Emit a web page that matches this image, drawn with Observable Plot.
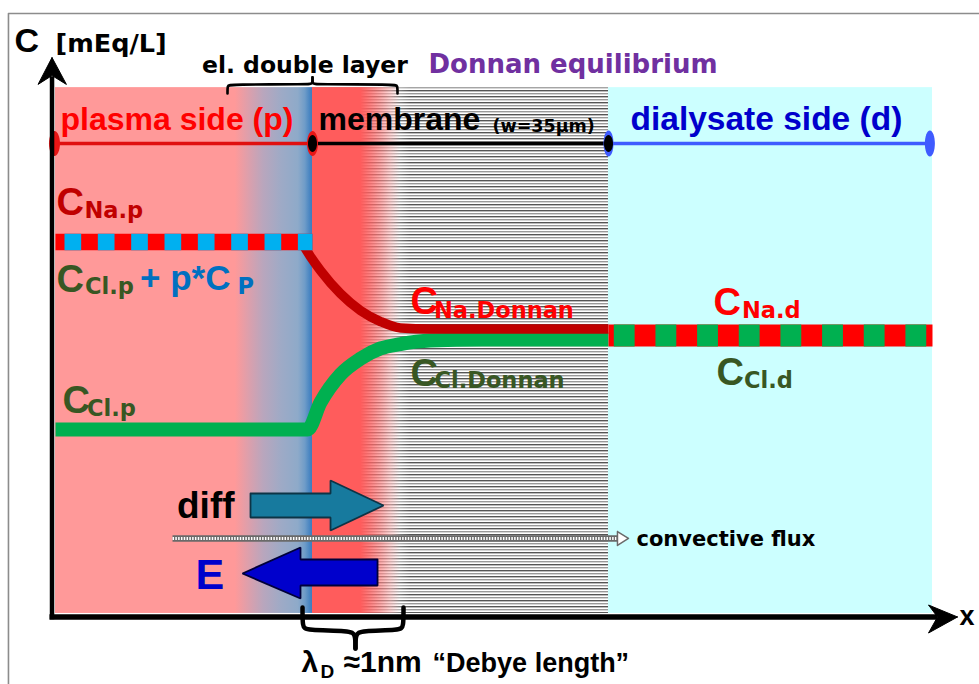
<!DOCTYPE html>
<html><head><meta charset="utf-8">
<script src="https://cdn.jsdelivr.net/npm/d3@7"></script>
<script src="https://cdn.jsdelivr.net/npm/@observablehq/plot@0.6"></script>
<style>html,body{margin:0;padding:0;overflow:hidden;background:#fff;} #chart svg{display:block;}</style>
</head><body><div id="chart"></div>
<script>
// x: position relative to the membrane surface (µm); y: concentration (mEq/L)
const xDomain = [-36.892, 78.868];
const yDomain = [-24.95, 229.74];

const frame = [[-35.95, -24.95], [-35.95, 224.9], [78.87, 224.9]];
const plasmaX = [-30.39, 0];
const membraneX = [0, 35];
const dialysateX = [35, 73.31];
const debyeX = [0, 10.41];
const fadeX = [0, 11.6];
const compartmentY = [1.5, 197.3];

const headerP = [[-30.51, 176.5], [0, 176.5]];
const headerM = [[0, 176.5], [35, 176.5]];
const headerD = [[35, 176.5], [73.0, 176.5]];
const endsRed = [[-30.51, 176.5], [0, 176.5]];
const endsBlue = [[35, 176.5], [73.0, 176.5]];
const endsBlack = [[0, 176.5], [35, 176.5]];

const naPlasma = [[-30.39, 139.8], [0, 139.8]];
const naMembrane = [[-1.30, 139.8], [-0.24, 134.4], [0.95, 129.2], [3.31, 120.6], [5.68, 114.3], [8.04, 110.2], [10.41, 107.8], [13.95, 107.4], [35, 107.4]];
const clProfile = [[-30.39, 70.0], [-0.59, 70.0], [0.95, 80.1], [3.31, 90.5], [5.68, 96.4], [8.04, 100.2], [10.41, 101.8], [13.95, 103.1], [20, 103.5], [35, 103.5]];
const dialysateC = [[35, 105.0], [73.31, 105.0]];

const diffArrow = [[-7.33, 46.17], [2.13, 46.17], [2.13, 51.01], [8.40, 41.70], [2.13, 32.39], [2.13, 37.23], [-7.33, 37.23], [-7.33, 46.17]];
const eArrow = [[7.69, 21.60], [-1.42, 21.60], [-1.42, 26.06], [-8.28, 16.38], [-1.42, 7.07], [-1.42, 11.92], [7.69, 11.92], [7.69, 21.60]];
const convective = [[-16.55, 29.42], [36.06, 29.42]];
const convectiveHead = [[36.06, 31.98], [37.36, 29.42], [36.06, 26.81], [36.06, 31.98]];

const yAxisLine = [[-30.80, -0.7], [-30.80, 201.5]];
const yAxisHead = [[-30.80, 208.5], [-32.45, 198.5], [-30.80, 201.8], [-29.10, 198.5], [-30.80, 208.5]];
const xAxisLine = [[-31.1, 0.19], [73.9, 0.19]];
const xAxisHead = [[76.27, 0.19], [72.84, 4.65], [73.9, 0.19], [72.84, -5.77], [76.27, 0.19]];

const braceTopL = [[-10.05, 195.1], [-10.05, 198.1], [-9.81, 198.5], [-0.24, 198.5], [0, 198.8], [0, 201.1]];
const braceTopR = [[0, 201.1], [0, 198.8], [0.24, 198.5], [9.81, 198.5], [10.05, 198.1], [10.05, 195.1]];
const braceBotL = [[-1.18, 3.72], [-1.18, -3.35], [-0.83, -4.84], [4.49, -4.84], [5.08, -6.33], [5.08, -11.54]];
const braceBotR = [[5.08, -11.54], [5.08, -6.33], [5.68, -4.84], [10.41, -4.84], [10.76, -3.35], [10.76, 3.72]];

// text labels
const titleC = [{t: "C", x: -35.24, y: 210.4}];
const unitLabel = [{t: "[mEq/L]", x: -30.39, y: 210.4}];
const layerLabel = [{t: "el. double layer", x: -13.07, y: 202.56}];
const donnanLabel = [{t: "Donnan equilibrium", x: 13.72, y: 202.93}];
const plasmaLabel = [{t: "plasma side (p)", x: -29.80, y: 181.7}];
const membraneLabel = [{t: "membrane", x: 0.71, y: 181.7}];
const widthLabel = [{t: "(w=35µm)", x: 21.28, y: 180.96}];
const dialysateLabel = [{t: "dialysate side (d)", x: 37.60, y: 181.7}];
const diffLabel = [{t: "diff", x: -16.02, y: 37.23}];
const eLabel = [{t: "E", x: -13.83, y: 10.43}];
const fluxLabel = [{t: "convective flux", x: 38.31, y: 26.44}];
const xLabel = [{t: "x", x: 76.50, y: -2.98}];

const cDarkRed = [{t: "C", x: -30.27, y: 150.05}];
const subDarkRed = [{t: "Na.p", x: -26.96, y: 148.57}];
const cRed = [{t: "C", x: 11.59, y: 113.19}, {t: "C", x: 47.41, y: 112.82}];
const subRed = [{t: "Na.Donnan", x: 14.36, y: 111.70}, {t: "Na.d", x: 50.78, y: 111.70}];
const cGreen = [{t: "C", x: -30.27, y: 121.38}, {t: "C", x: -29.56, y: 75.96}, {t: "C", x: 11.59, y: 86.38}, {t: "C", x: 47.77, y: 86.75}];
const subGreen = [{t: "Cl.p", x: -26.90, y: 120.64}, {t: "Cl.p", x: -26.67, y: 75.21}, {t: "Cl.Donnan", x: 14.42, y: 85.27}, {t: "Cl.d", x: 51.02, y: 85.27}];
const cBlue = [{t: "+ p*C", x: -20.40, y: 121.76}];
const subBlue = [{t: "P", x: -8.87, y: 120.64}];

const debyeLambda = [{t: "λ", x: -1.30, y: -20.48}];
const debyeSub = [{t: "D", x: 0.95, y: -22.71}];
const debyeValue = [{t: "≈1nm", x: 3.67, y: -20.48}];
const debyeName = [{t: "“Debye length”", x: 14.20, y: -20.48}];

// ---- helpers (style only)
const P = {x: d => d[0], y: d => d[1]};
const box = (xs, ys) => [{x1: xs[0], x2: xs[1], y1: ys[0], y2: ys[1]}];
const R = {x1: "x1", x2: "x2", y1: "y1", y2: "y2"};
const ARIAL = "Liberation Sans, Arial, Helvetica, sans-serif";
const DEJAVU = "DejaVu Sans, Verdana, sans-serif";
const T = (data, size, fill, family = ARIAL) => Plot.text(data, {x: "x", y: "y", text: "t", textAnchor: "start", lineAnchor: "bottom", fontSize: size, fontWeight: "bold", fontFamily: family, fill});
const ellipse = (rx, ry) => ({draw(ctx) {
  const k = 0.5523;
  ctx.moveTo(rx, 0);
  ctx.bezierCurveTo(rx, ry * k, rx * k, ry, 0, ry);
  ctx.bezierCurveTo(-rx * k, ry, -rx, ry * k, -rx, 0);
  ctx.bezierCurveTo(-rx, -ry * k, -rx * k, -ry, 0, -ry);
  ctx.bezierCurveTo(rx * k, -ry, rx, -ry * k, rx, 0);
  ctx.closePath();
}});
const GREEN_TXT = "#385723";

const chart = Plot.plot({
  width: 979, height: 684, margin: 0,
  x: {domain: xDomain, axis: null},
  y: {domain: yDomain, axis: null},
  style: {background: "#fff", overflow: "hidden"},
  marks: [
    Plot.line(frame, {...P, stroke: "#8c8c8c", strokeWidth: 1.6, strokeLinecap: "butt"}),
    Plot.rect(box(plasmaX, compartmentY), {...R, fill: "url(#gPlasma)"}),
    Plot.rect(box(membraneX, compartmentY), {...R, fill: "url(#stripes)"}),
    Plot.rect(box(dialysateX, compartmentY), {...R, fill: "#ccffff"}),
    Plot.rect(box(fadeX, compartmentY), {...R, fill: "url(#gFade)"}),
    Plot.rect(box(debyeX, compartmentY), {...R, fill: "url(#gRed)"}),

    Plot.line(headerP, {...P, stroke: "#e01010", strokeWidth: 3.5}),
    Plot.line(headerM, {...P, stroke: "#000", strokeWidth: 3.5}),
    Plot.line(headerD, {...P, stroke: "#3f5bff", strokeWidth: 3.5}),
    Plot.dot(endsRed, {...P, symbol: ellipse(5.5, 12.5), fill: "#e81515"}),
    Plot.dot(endsBlue, {...P, symbol: ellipse(5, 13), fill: "#3f5bff"}),
    Plot.dot(endsBlack, {...P, symbol: ellipse(4.5, 8.5), fill: "#000"}),

    Plot.line(clProfile, {...P, stroke: "#00b050", strokeWidth: 14, curve: "monotone-x", strokeLinecap: "butt", strokeLinejoin: "round"}),
    Plot.line(naMembrane, {...P, stroke: "#c00000", strokeWidth: 9.5, curve: "monotone-x", strokeLinecap: "butt"}),
    Plot.line(naPlasma, {...P, stroke: "#ff0000", strokeWidth: 16.5, strokeLinecap: "butt"}),
    Plot.line(naPlasma, {...P, stroke: "#00b0f0", strokeWidth: 16.5, strokeLinecap: "butt", strokeDasharray: "16.67 16.67", strokeDashoffset: 24.33}),
    Plot.line(dialysateC, {...P, stroke: "#ff0000", strokeWidth: 22, strokeLinecap: "butt"}),
    Plot.line(dialysateC, {...P, stroke: "#00b050", strokeWidth: 22, strokeLinecap: "butt", strokeDasharray: "20.83 20.83", strokeDashoffset: 36.37}),

    Plot.line(convective, {...P, stroke: "#6a6a6a", strokeWidth: 6.5, strokeLinecap: "butt"}),
    Plot.line(convective, {...P, stroke: "#fff", strokeWidth: 3, strokeLinecap: "butt", strokeDasharray: "1.5 1.3"}),
    Plot.line(convectiveHead, {...P, fill: "#fff", stroke: "#6a6a6a", strokeWidth: 1.5}),
    Plot.line(diffArrow, {...P, fill: "#177a9e", stroke: "#0d3446", strokeWidth: 1.8, strokeLinejoin: "miter"}),
    Plot.line(eArrow, {...P, fill: "#0000cc", stroke: "#00003a", strokeWidth: 1.8, strokeLinejoin: "miter"}),

    Plot.line(yAxisLine, {...P, stroke: "#000", strokeWidth: 4.5, strokeLinecap: "butt"}),
    Plot.line(yAxisHead, {...P, fill: "#000", stroke: "#000", strokeWidth: 1}),
    Plot.line(xAxisLine, {...P, stroke: "#000", strokeWidth: 5.5, strokeLinecap: "butt"}),
    Plot.line(xAxisHead, {...P, fill: "#000", stroke: "#000", strokeWidth: 1}),

    Plot.line(braceTopL, {...P, stroke: "#000", strokeWidth: 2.6, curve: "basis"}),
    Plot.line(braceTopR, {...P, stroke: "#000", strokeWidth: 2.6, curve: "basis"}),
    Plot.line(braceBotL, {...P, stroke: "#000", strokeWidth: 4.5, curve: "basis"}),
    Plot.line(braceBotR, {...P, stroke: "#000", strokeWidth: 4.5, curve: "basis"}),

    T(titleC, 34, "#000"),
    T(unitLabel, 25.5, "#000", DEJAVU),
    T(layerLabel, 23.5, "#000", DEJAVU),
    T(donnanLabel, 26, "#7030a0", DEJAVU),
    T(plasmaLabel, 32, "#ff0000"),
    T(membraneLabel, 32, "#000"),
    T(widthLabel, 17.5, "#000", DEJAVU),
    T(dialysateLabel, 33.5, "#0000cc"),
    T(diffLabel, 37, "#000"),
    T(eLabel, 43, "#0000cc"),
    T(fluxLabel, 21, "#000", DEJAVU),
    T(xLabel, 27, "#000"),

    T(cDarkRed, 38, "#c00000"),
    T(subDarkRed, 22.5, "#c00000", DEJAVU),
    T(cRed, 38, "#ff0000"),
    T(subRed, 22.5, "#ff0000", DEJAVU),
    T(cGreen, 38, GREEN_TXT),
    T(subGreen, 22.5, GREEN_TXT, DEJAVU),
    T(cBlue, 35, "#0070c0"),
    T(subBlue, 22.5, "#0070c0", DEJAVU),

    T(debyeLambda, 30, "#000"),
    T(debyeSub, 19, "#000"),
    T(debyeValue, 30, "#000"),
    T(debyeName, 27, "#000")
  ]
});

// gradient & pattern definitions (styling only)
const defs = d3.select(chart).insert("defs", ":first-child");
function grad(id, stops) {
  const g = defs.append("linearGradient").attr("id", id).attr("x1", 0).attr("x2", 1).attr("y1", 0).attr("y2", 0);
  stops.forEach(([o, c, a]) => g.append("stop").attr("offset", o).attr("stop-color", c).attr("stop-opacity", a ?? 1));
}
grad("gPlasma", [[0, "#ff9999"], [0.70, "#ff9999"], [0.76, "#d8a0ae"], [0.81, "#b9a6bd"], [0.88, "#9eaac6"], [0.945, "#8eaac9"], [0.972, "#6f9cc8"], [0.99, "#4a86c2"], [1, "#3f7cbf"]]);
grad("gRed", [[0, "#ff5c5c", 1], [0.55, "#ff5c5c", 1], [0.8, "#ff5c5c", 0.45], [1, "#ff5c5c", 0]]);
grad("gFade", [[0, "#ffffff", 0], [0.5, "#ffffff", 0], [0.8, "#ffffff", 0.45], [1, "#ffffff", 0]]);
const pat = defs.append("pattern").attr("id", "stripes").attr("patternUnits", "userSpaceOnUse").attr("width", 8).attr("height", 6);
pat.append("rect").attr("width", 8).attr("height", 6).attr("fill", "#fff");
pat.append("rect").attr("y", 0).attr("width", 8).attr("height", 1.4).attr("fill", "#555");
pat.append("rect").attr("y", 3).attr("width", 8).attr("height", 1.4).attr("fill", "#999");

document.getElementById("chart").appendChild(chart);
</script>
</body></html>
